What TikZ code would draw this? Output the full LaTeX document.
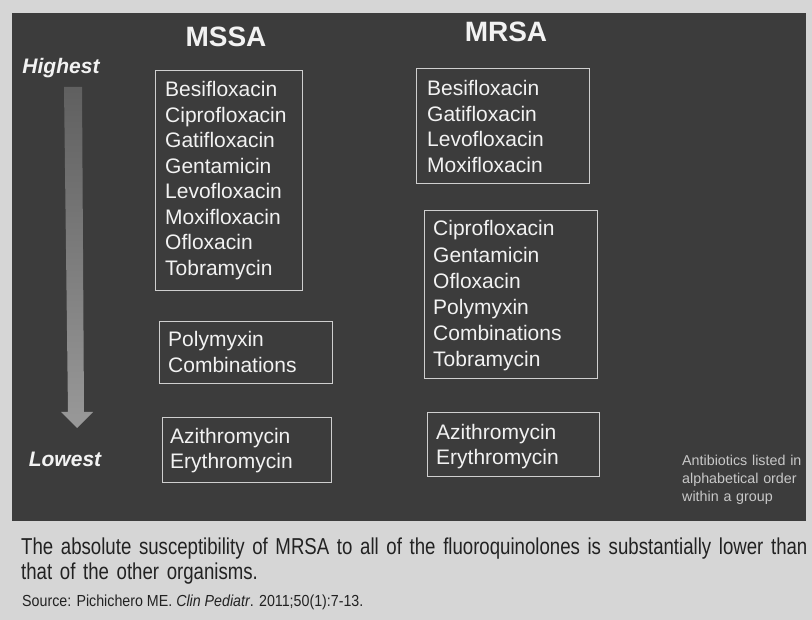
\documentclass[tikz,border=0pt]{standalone}
\usepackage{fontspec}
\setmainfont{Liberation Sans}
\newfontfamily\condfont[FakeStretch=0.81]{Liberation Sans}
\newfontfamily\srcfont[FakeStretch=0.89]{Liberation Sans}
\definecolor{pagebg}{HTML}{D6D6D6}
\definecolor{panel}{HTML}{3C3C3C}
\definecolor{boxline}{HTML}{CFCFCF}
\definecolor{txt}{HTML}{F2F2F2}
\definecolor{notetxt}{HTML}{C8C8C8}
\definecolor{captxt}{HTML}{222222}
\begin{document}
\begin{tikzpicture}[x=1pt,y=-1pt,
  drug/.style={anchor=base west, align=left, text width=170pt, inner sep=0pt, text=txt, font=\fontsize{21}{25.5}\selectfont},
  grp/.style={draw=boxline, line width=0.9pt, inner sep=0pt, anchor=north west},
  title/.style={anchor=base, inner sep=0pt, text=txt, font=\bfseries\fontsize{28}{30}\selectfont},
  level/.style={anchor=base, inner sep=0pt, text=txt, font=\bfseries\itshape\fontsize{21}{24}\selectfont}]
\useasboundingbox (0,0) rectangle (812,620);
\fill[pagebg] (0,0) rectangle (812,620);
\fill[panel] (12,13) rectangle (806,521);

% titles
\node[title] (mssa) at (226,47) {MSSA};
\node[title] (mrsa) at (506,42) {MRSA};
\node[level] (high) at (61,74) {Highest};
\node[level] (low) at (65,467) {Lowest};

% arrow
\shade[top color=gray!75!black, bottom color=gray!80!white]
  (64,87) -- (82,87) -- (84,412) -- (93,412) -- (77,428) -- (61,412) -- (68,412) -- cycle;

% MSSA groups
\node[grp, minimum width=147pt, minimum height=220pt] (mssaA) at (155,70) {};
\node[drug] (mssaAt) at (165,97) {Besifloxacin\\Ciprofloxacin\\Gatifloxacin\\Gentamicin\\Levofloxacin\\Moxifloxacin\\Ofloxacin\\Tobramycin};
\node[grp, minimum width=173pt, minimum height=62pt] (mssaB) at (159,321) {};
\node[drug] (mssaBt) at (168,347) {Polymyxin\\Combinations};
\node[grp, minimum width=169pt, minimum height=65pt] (mssaC) at (162,417) {};
\node[drug] (mssaCt) at (170,443) {Azithromycin\\Erythromycin};

% MRSA groups
\node[grp, minimum width=173pt, minimum height=115pt] (mrsaA) at (416,68) {};
\node[drug] (mrsaAt) at (427,96) {Besifloxacin\\Gatifloxacin\\Levofloxacin\\Moxifloxacin};
\node[grp, minimum width=173pt, minimum height=168pt] (mrsaB) at (424,210) {};
\node[drug, font=\fontsize{21}{26.2}\selectfont] (mrsaBt) at (433,236) {Ciprofloxacin\\Gentamicin\\Ofloxacin\\Polymyxin\\Combinations\\Tobramycin};
\node[grp, minimum width=172pt, minimum height=64pt] (mrsaC) at (427,412) {};
\node[drug] (mrsaCt) at (436,439) {Azithromycin\\Erythromycin};

% note
\node[anchor=base west, align=left, text width=125pt, inner sep=0pt, text=notetxt, font=\fontsize{14.3}{18}\selectfont] (note) at (682,465) {Antibiotics listed in\\alphabetical order\\within a group};

% caption
\node[anchor=base west, align=left, text width=900pt, inner sep=0pt, text=captxt, font=\condfont\fontsize{23}{25}\selectfont] (cap) at (21,554) {The absolute susceptibility of MRSA to all of the fluoroquinolones is substantially lower than\\that of the other organisms.};
\node[anchor=base west, inner sep=0pt, text=captxt, font=\srcfont\fontsize{16}{18}\selectfont] (src) at (22,606) {Source: Pichichero ME. \textit{Clin Pediatr}. 2011;50(1):7-13.};
\end{tikzpicture}
\end{document}
